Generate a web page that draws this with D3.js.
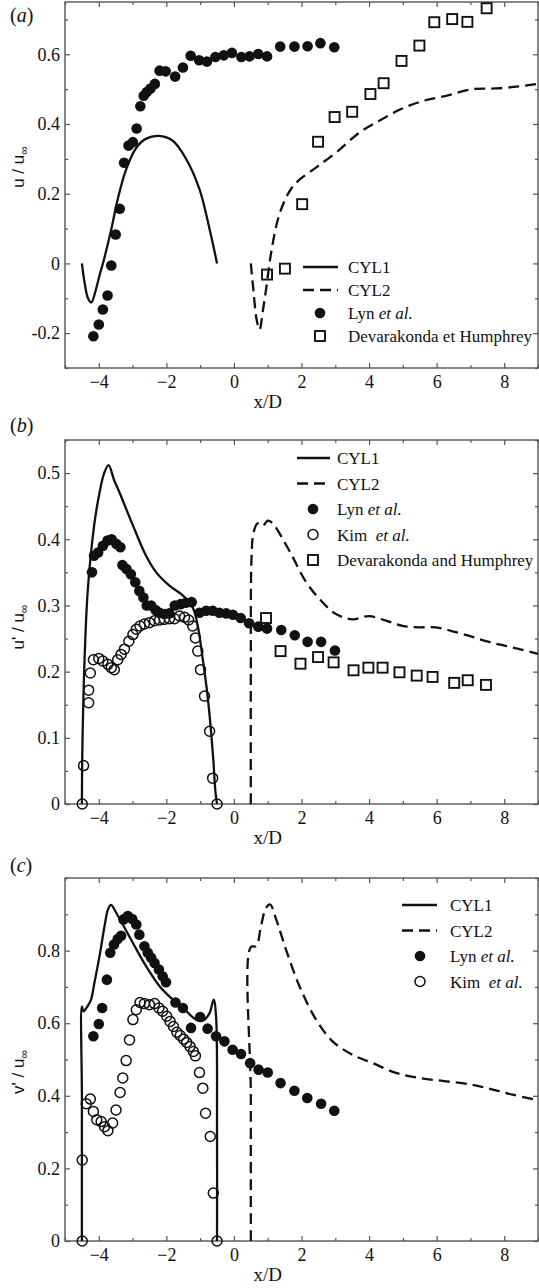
<!DOCTYPE html>
<html><head><meta charset="utf-8">
<script src="https://cdn.jsdelivr.net/npm/d3@7"></script>
<style>body{margin:0;background:#fff} svg{display:block}</style>
</head><body><svg id="c" width="539" height="1288"></svg>
<script>
// ---------------- DATA ----------------
const xTickValues = [-4, -2, 0, 2, 4, 6, 8];
const yTicksA = [-0.2, 0, 0.2, 0.4, 0.6];
const yTicksB = [0, 0.1, 0.2, 0.3, 0.4, 0.5];
const yTicksC = [0, 0.2, 0.4, 0.6, 0.8];

// panel (a): mean streamwise velocity u/u_inf
const cyl1A = [[-4.5,0],[-4.42,-0.055],[-4.32,-0.1],[-4.22,-0.112],[-4.1,-0.08],[-3.98,-0.035],[-3.85,0.01],[-3.63,0.098],[-3.44,0.184],[-3.19,0.27],[-2.89,0.332],[-2.6,0.358],[-2.22,0.366],[-1.81,0.352],[-1.41,0.299],[-1.02,0.213],[-0.72,0.098],[-0.5,0.0]];
const cyl2A = [[0.5,0.0],[0.58,-0.08],[0.67,-0.16],[0.76,-0.19],[0.85,-0.14],[0.95,-0.075],[1.1,0.03],[1.3,0.126],[1.5,0.18],[1.7,0.215],[1.95,0.241],[2.43,0.275],[3.02,0.318],[3.71,0.375],[4.3,0.409],[4.95,0.443],[5.59,0.466],[6.28,0.481],[7.07,0.5],[7.76,0.502],[8.45,0.508],[9.0,0.515]];
const lynA = [[-4.16,-0.209],[-4.0,-0.175],[-3.88,-0.132],[-3.74,-0.092],[-3.63,-0.006],[-3.5,0.083],[-3.38,0.157],[-3.25,0.289],[-3.12,0.338],[-2.99,0.348],[-2.88,0.387],[-2.77,0.451],[-2.67,0.481],[-2.58,0.492],[-2.47,0.502],[-2.34,0.515],[-2.2,0.553],[-2.02,0.551],[-1.74,0.536],[-1.51,0.562],[-1.28,0.596],[-1.03,0.583],[-0.8,0.579],[-0.55,0.592],[-0.3,0.597],[-0.06,0.604],[0.22,0.592],[0.46,0.594],[0.72,0.601],[0.98,0.594],[1.37,0.622],[1.79,0.622],[2.18,0.623],[2.56,0.632],[2.97,0.62]];
const devA = [[0.98,-0.032],[1.51,-0.015],[2.02,0.17],[2.49,0.349],[2.98,0.42],[3.5,0.435],[4.04,0.486],[4.43,0.517],[4.96,0.581],[5.49,0.625],[5.93,0.692],[6.46,0.701],[6.91,0.693],[7.48,0.732]];

// panel (b): streamwise fluctuation u'/u_inf
const cyl1B = [[-4.5,0],[-4.49,0.07],[-4.46,0.15],[-4.42,0.22],[-4.33,0.32],[-4.14,0.42],[-3.98,0.47],[-3.84,0.5],[-3.71,0.512],[-3.55,0.49],[-3.39,0.471],[-2.99,0.421],[-2.6,0.375],[-2.3,0.35],[-1.91,0.33],[-1.51,0.315],[-1.22,0.297],[-1.07,0.269],[-0.92,0.218],[-0.79,0.168],[-0.69,0.117],[-0.61,0.067],[-0.55,0.02],[-0.5,0]];
const cyl2B = [[0.5,0],[0.5,0.2],[0.52,0.37],[0.58,0.41],[0.7,0.424],[0.85,0.42],[1.0,0.428],[1.15,0.424],[1.3,0.413],[1.69,0.378],[2.14,0.335],[2.53,0.31],[3.02,0.287],[3.51,0.279],[4.0,0.284],[4.5,0.277],[4.99,0.269],[5.49,0.267],[5.98,0.267],[6.47,0.261],[6.97,0.254],[7.46,0.246],[7.95,0.24],[8.45,0.234],[9.0,0.227]];
const lynB = [[-4.2,0.35],[-4.14,0.375],[-4.02,0.38],[-3.88,0.39],[-3.74,0.398],[-3.62,0.4],[-3.48,0.393],[-3.36,0.388],[-3.3,0.361],[-3.18,0.355],[-3.05,0.347],[-2.92,0.335],[-2.8,0.322],[-2.68,0.312],[-2.58,0.3],[-2.45,0.3],[-2.32,0.293],[-2.2,0.289],[-2.06,0.287],[-1.91,0.288],[-1.75,0.3],[-1.58,0.302],[-1.42,0.304],[-1.25,0.305],[-1.02,0.289],[-0.82,0.292],[-0.63,0.292],[-0.43,0.289],[-0.23,0.288],[-0.03,0.286],[0.2,0.281],[0.45,0.273],[0.72,0.268],[0.98,0.265],[1.4,0.263],[1.8,0.255],[2.18,0.245],[2.58,0.245],[2.99,0.232]];
const kimB = [[-4.49,0],[-4.45,0.058],[-4.3,0.153],[-4.3,0.172],[-4.25,0.198],[-4.16,0.218],[-4.0,0.22],[-3.88,0.216],[-3.73,0.211],[-3.63,0.206],[-3.54,0.203],[-3.44,0.218],[-3.34,0.226],[-3.24,0.234],[-3.11,0.246],[-2.99,0.256],[-2.89,0.264],[-2.78,0.269],[-2.65,0.272],[-2.5,0.274],[-2.35,0.277],[-2.2,0.278],[-2.06,0.279],[-1.91,0.28],[-1.76,0.28],[-1.61,0.284],[-1.46,0.282],[-1.34,0.278],[-1.22,0.269],[-1.14,0.251],[-1.07,0.231],[-0.99,0.203],[-0.87,0.163],[-0.72,0.11],[-0.63,0.039],[-0.5,0]];
const devB = [[0.95,0.281],[1.38,0.231],[1.97,0.212],[2.49,0.222],[2.95,0.214],[3.54,0.202],[3.98,0.206],[4.4,0.206],[4.9,0.199],[5.41,0.194],[5.88,0.192],[6.52,0.183],[6.92,0.187],[7.46,0.18]];

// panel (c): transverse fluctuation v'/u_inf
const cyl1C = [[-4.5,0],[-4.5,0.4],[-4.5,0.646],[-4.45,0.632],[-4.38,0.64],[-4.3,0.652],[-4.23,0.665],[-4.13,0.711],[-3.98,0.784],[-3.83,0.867],[-3.73,0.913],[-3.64,0.926],[-3.49,0.905],[-3.29,0.872],[-2.99,0.821],[-2.6,0.757],[-2.2,0.702],[-1.81,0.665],[-1.41,0.633],[-1.12,0.61],[-0.9,0.608],[-0.72,0.628],[-0.6,0.665],[-0.53,0.62],[-0.5,0.3],[-0.5,0]];
const cyl2C = [[0.5,0],[0.5,0.4],[0.5,0.81],[0.66,0.812],[0.8,0.867],[0.95,0.918],[1.07,0.927],[1.25,0.886],[1.54,0.803],[1.94,0.702],[2.43,0.61],[2.92,0.55],[3.51,0.513],[4.11,0.49],[4.8,0.463],[5.49,0.449],[6.28,0.44],[7.07,0.43],[7.66,0.417],[8.25,0.403],[9.0,0.388]];
const lynC = [[-4.16,0.564],[-4.0,0.598],[-3.9,0.642],[-3.76,0.72],[-3.66,0.794],[-3.55,0.817],[-3.44,0.832],[-3.34,0.841],[-3.27,0.886],[-3.14,0.895],[-3.01,0.887],[-2.89,0.872],[-2.8,0.844],[-2.65,0.812],[-2.55,0.794],[-2.45,0.78],[-2.35,0.766],[-2.22,0.748],[-2.11,0.729],[-2.01,0.713],[-1.73,0.657],[-1.51,0.642],[-1.27,0.587],[-1.0,0.617],[-0.78,0.585],[-0.53,0.564],[-0.28,0.55],[-0.04,0.527],[0.21,0.515],[0.48,0.49],[0.73,0.472],[1.0,0.464],[1.38,0.435],[1.79,0.414],[2.17,0.394],[2.58,0.378],[2.97,0.359]];
const kimC = [[-4.49,0],[-4.49,0.223],[-4.37,0.378],[-4.25,0.391],[-4.16,0.357],[-4.06,0.334],[-3.93,0.329],[-3.83,0.315],[-3.73,0.304],[-3.59,0.325],[-3.49,0.361],[-3.37,0.409],[-3.29,0.449],[-3.19,0.497],[-3.09,0.554],[-2.99,0.61],[-2.89,0.637],[-2.78,0.657],[-2.65,0.654],[-2.5,0.651],[-2.35,0.654],[-2.22,0.642],[-2.11,0.633],[-1.99,0.619],[-1.89,0.605],[-1.79,0.591],[-1.69,0.575],[-1.59,0.566],[-1.49,0.556],[-1.4,0.547],[-1.3,0.536],[-1.2,0.522],[-1.14,0.51],[-1.02,0.464],[-0.92,0.421],[-0.84,0.352],[-0.7,0.288],[-0.61,0.132],[-0.5,0]];

const legendA = [["CYL1",""],["CYL2",""],["Lyn ","et al."],["Devarakonda et Humphrey",""]];
const legendB = [["CYL1",""],["CYL2",""],["Lyn ","et al."],["Kim  ","et al."],["Devarakonda and Humphrey",""]];
const legendC = [["CYL1",""],["CYL2",""],["Lyn ","et al."],["Kim  ","et al."]];

// ---------------- DRAW ----------------
const svg = d3.select("#c");
const SERIF = "Liberation Serif, DejaVu Serif, serif";
const SANS = "Liberation Sans, Arial, sans-serif";
const INK = "#111";
const FRAME = "#555";
const DOT_R = 5.3, RING_R = 5.0, SQ = 10;

function drawPanel(cfg) {
  const x = d3.scaleLinear().domain([-5, 9]).range([cfg.left, cfg.right]);
  const y = d3.scaleLinear().domain(cfg.yDomain).range([cfg.bottom, cfg.top]);
  const g = svg.append("g");

  const xMinor = d3.range(-5, 9.001, 1).filter(v => !xTickValues.includes(v));
  const yMinor = d3.range(cfg.yDomain[0], cfg.yDomain[1] + 1e-9, cfg.yMinorStep)
      .map(v => +v.toFixed(3)).filter(v => !cfg.yTicks.some(t => Math.abs(t - v) < 1e-6));

  function axisGroup(axis, tx, ty, withText) {
    const a = g.append("g").attr("transform", `translate(${tx},${ty})`).call(axis);
    a.attr("font-family", SERIF).attr("font-size", 18);
    a.select(".domain").remove();
    a.selectAll("line").attr("stroke", FRAME).attr("stroke-width", 1.2);
    if (withText) a.selectAll("text").style("font-family", SERIF).style("font-size", "18px").attr("fill", INK);
    else a.selectAll("text").remove();
    return a;
  }
  // bottom
  axisGroup(d3.axisBottom(x).tickValues(xTickValues).tickSize(-5).tickSizeOuter(0).tickPadding(7).tickFormat(d3.format("d")), 0, cfg.bottom, true);
  axisGroup(d3.axisBottom(x).tickValues(xMinor).tickSize(-3).tickSizeOuter(0).tickFormat(""), 0, cfg.bottom, false);
  // top
  axisGroup(d3.axisTop(x).tickValues(xTickValues).tickSize(-5).tickSizeOuter(0).tickFormat(""), 0, cfg.top, false);
  axisGroup(d3.axisTop(x).tickValues(xMinor).tickSize(-3).tickSizeOuter(0).tickFormat(""), 0, cfg.top, false);
  // left
  axisGroup(d3.axisLeft(y).tickValues(cfg.yTicks).tickSize(-5).tickSizeOuter(0).tickPadding(5).tickFormat(d => String(d)), cfg.left, 0, true);
  axisGroup(d3.axisLeft(y).tickValues(yMinor).tickSize(-3).tickSizeOuter(0).tickFormat(""), cfg.left, 0, false);
  // right
  axisGroup(d3.axisRight(y).tickValues(cfg.yTicks).tickSize(-5).tickSizeOuter(0).tickFormat(""), cfg.right, 0, false);
  axisGroup(d3.axisRight(y).tickValues(yMinor).tickSize(-3).tickSizeOuter(0).tickFormat(""), cfg.right, 0, false);

  // frame
  g.append("rect").attr("x", cfg.left).attr("y", cfg.top)
    .attr("width", cfg.right - cfg.left).attr("height", cfg.bottom - cfg.top)
    .attr("fill", "none").attr("stroke", FRAME).attr("stroke-width", 1.4);

  // lines
  const line = d3.line().x(d => x(d[0])).y(d => y(d[1])).curve(d3.curveCatmullRom.alpha(0.5));
  g.append("path").datum(cfg.cyl1).attr("d", line).attr("fill", "none")
    .attr("stroke", INK).attr("stroke-width", 2.3);
  g.append("path").datum(cfg.cyl2).attr("d", line).attr("fill", "none")
    .attr("stroke", INK).attr("stroke-width", 2.3).attr("stroke-dasharray", "11,6");

  // markers
  g.append("g").selectAll("circle").data(cfg.lyn).join("circle")
    .attr("cx", d => x(d[0])).attr("cy", d => y(d[1])).attr("r", DOT_R).attr("fill", INK);
  if (cfg.kim) g.append("g").selectAll("circle").data(cfg.kim).join("circle")
    .attr("cx", d => x(d[0])).attr("cy", d => y(d[1])).attr("r", RING_R)
    .attr("fill", "none").attr("stroke", INK).attr("stroke-width", 1.5);
  if (cfg.dev) g.append("g").selectAll("rect").data(cfg.dev).join("rect")
    .attr("x", d => x(d[0]) - SQ / 2).attr("y", d => y(d[1]) - SQ / 2).attr("width", SQ).attr("height", SQ)
    .attr("fill", "none").attr("stroke", INK).attr("stroke-width", 1.9);

  // panel letter
  const pl = g.append("text").attr("x", 10).attr("y", cfg.letterY)
    .style("font-family", SERIF).attr("font-size", 20).attr("fill", INK);
  pl.append("tspan").text("(");
  pl.append("tspan").attr("font-style", "italic").text(cfg.letter);
  pl.append("tspan").text(")");

  // x title
  g.append("text").attr("x", (x(0) + x(2)) / 2).attr("y", cfg.bottom + 40)
    .attr("text-anchor", "middle").style("font-family", SERIF).attr("font-size", 19)
    .attr("fill", INK).text("x/D");

  // y title
  const yt = g.append("text").attr("transform", `translate(24,${cfg.yTitleY}) rotate(-90)`)
    .attr("text-anchor", "middle").style("font-family", SANS).attr("font-size", 17)
    .attr("fill", INK);
  yt.append("tspan").text(cfg.yTitle + " / u");
  yt.append("tspan").attr("font-size", 12).attr("dy", 4).text("\u221E");

  // legend
  const L = cfg.legend;
  cfg.legendLabels.forEach((lab, i) => {
    const yy = L.y0 + i * L.dy;
    const kind = cfg.legendKinds[i];
    if (kind === "line") g.append("line").attr("x1", L.lx1).attr("x2", L.lx2).attr("y1", yy).attr("y2", yy)
      .attr("stroke", INK).attr("stroke-width", 2.3);
    if (kind === "dash") g.append("line").attr("x1", L.lx1).attr("x2", L.lx2).attr("y1", yy).attr("y2", yy)
      .attr("stroke", INK).attr("stroke-width", 2.3).attr("stroke-dasharray", "11,6");
    if (kind === "dot") g.append("circle").attr("cx", L.mx).attr("cy", yy).attr("r", DOT_R).attr("fill", INK);
    if (kind === "ring") g.append("circle").attr("cx", L.mx).attr("cy", yy).attr("r", RING_R)
      .attr("fill", "none").attr("stroke", INK).attr("stroke-width", 1.5);
    if (kind === "square") g.append("rect").attr("x", L.mx - SQ / 2).attr("y", yy - SQ / 2).attr("width", SQ).attr("height", SQ)
      .attr("fill", "none").attr("stroke", INK).attr("stroke-width", 1.9);
    const t = g.append("text").attr("x", L.tx).attr("y", yy + 6)
      .style("font-family", SERIF).attr("font-size", 17).attr("fill", INK).style("white-space", "pre");
    t.append("tspan").text(lab[0]);
    if (lab[1]) t.append("tspan").attr("font-style", "italic").text(lab[1]);
  });
}

drawPanel({
  top: 2, bottom: 368, left: 65, right: 538, yDomain: [-0.3, 0.75], yTicks: yTicksA, yMinorStep: 0.1,
  cyl1: cyl1A, cyl2: cyl2A, lyn: lynA, dev: devA, kim: null,
  letter: "a", letterY: 22, yTitle: "u", yTitleY: 167,
  legendLabels: legendA, legendKinds: ["line", "dash", "dot", "square"],
  legend: { y0: 267, dy: 23, lx1: 303, lx2: 338, mx: 320, tx: 348 }
});
drawPanel({
  top: 440, bottom: 804, left: 65, right: 538, yDomain: [0, 0.55], yTicks: yTicksB, yMinorStep: 0.05,
  cyl1: cyl1B, cyl2: cyl2B, lyn: lynB, dev: devB, kim: kimB,
  letter: "b", letterY: 432, yTitle: "u'", yTitleY: 627,
  legendLabels: legendB, legendKinds: ["line", "dash", "dot", "ring", "square"],
  legend: { y0: 458, dy: 25.5, lx1: 297, lx2: 330, mx: 313, tx: 337 }
});
drawPanel({
  top: 878, bottom: 1241, left: 65, right: 538, yDomain: [0, 1.0], yTicks: yTicksC, yMinorStep: 0.1,
  cyl1: cyl1C, cyl2: cyl2C, lyn: lynC, dev: null, kim: kimC,
  letter: "c", letterY: 872, yTitle: "v'", yTitleY: 1072,
  legendLabels: legendC, legendKinds: ["line", "dash", "dot", "ring"],
  legend: { y0: 905, dy: 25.5, lx1: 402, lx2: 437, mx: 420, tx: 450 }
});
</script></body></html>
